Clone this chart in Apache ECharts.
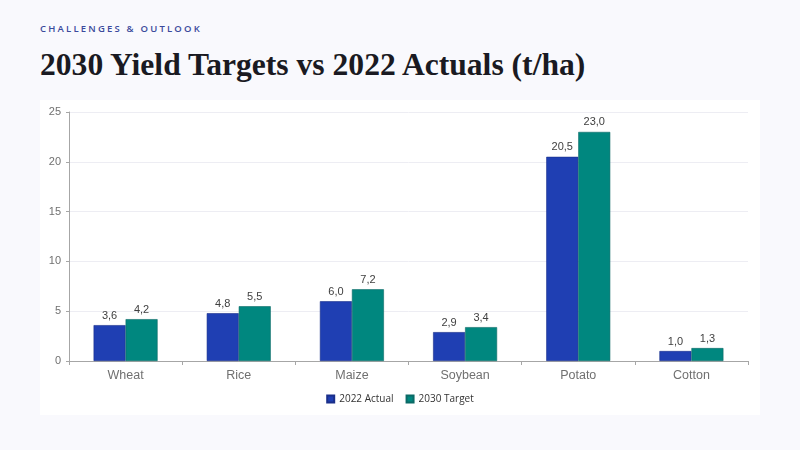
<!DOCTYPE html>
<html>
<head>
    <meta charset="utf-8">
    <title>2030 Yield Targets</title>
    <script src="https://cdn.jsdelivr.net/npm/echarts@6/dist/echarts.min.js"></script>
    <style>
        html, body { margin: 0; padding: 0; background: #f9f9fd; }
        #page { position: relative; width: 800px; height: 450px; overflow: hidden; }
        #kicker { position: absolute; left: 40px; top: 22px; font: 600 9.5px "Open Sans", sans-serif; letter-spacing: 2.2px; color: #3b4a9c; }
        #title { position: absolute; left: 40px; top: 47px; font: bold 31.6px "Liberation Serif", serif; color: #1a1a22; }
        #panel { position: absolute; left: 40px; top: 100px; width: 720px; height: 315px; background: #ffffff; }
        #main { position: absolute; left: 0; top: 0; width: 800px; height: 450px; }
    </style>
</head>
<body>
<div id="page">
    <div id="kicker">CHALLENGES &amp; OUTLOOK</div>
    <div id="title">2030 Yield Targets vs 2022 Actuals (t/ha)</div>
    <div id="panel"></div>
    <div id="main"></div>
</div>
<script type="text/javascript">
    var crops = ['Wheat', 'Rice', 'Maize', 'Soybean', 'Potato', 'Cotton'];
    var actual2022 = [3.6, 4.8, 6.0, 2.9, 20.5, 1.0];
    var target2030 = [4.2, 5.5, 7.2, 3.4, 23.0, 1.3];

    var fmt = function (p) {
        return p.value.toFixed(1).replace('.', ',');
    };

    var myChart = echarts.init(document.getElementById('main'));
    var option = {
        animation: false,
        legend: {
            bottom: 41,
            left: 'center',
            itemWidth: 7,
            itemHeight: 7,
            itemGap: 12,
            icon: 'rect',
            textStyle: { fontFamily: 'Open Sans', fontSize: 10, color: '#333' },
            data: ['2022 Actual', '2030 Target']
        },
        grid: { left: 69, right: 52, top: 112, bottom: 89 },
        xAxis: {
            type: 'category',
            data: crops,
            axisLine: { lineStyle: { color: '#a6a6a6' } },
            axisTick: { show: true, length: 4, lineStyle: { color: '#a6a6a6' } },
            axisLabel: { color: '#707070', fontSize: 12.5, fontFamily: 'Liberation Sans', margin: 8 }
        },
        yAxis: {
            type: 'value',
            min: 0,
            max: 25,
            interval: 5,
            axisLine: { show: true, lineStyle: { color: '#a6a6a6' } },
            axisTick: { show: true, length: 3, lineStyle: { color: '#a6a6a6' } },
            axisLabel: { color: '#707070', fontSize: 11, fontFamily: 'Liberation Sans', margin: 8 },
            splitLine: { lineStyle: { color: '#ededf3' } }
        },
        series: [
            {
                name: '2022 Actual',
                type: 'bar',
                data: actual2022,
                barWidth: 32,
                barGap: '0%',
                itemStyle: { color: '#1f3fb3', borderColor: '#1a2f8a', borderWidth: 0.6 },
                label: { show: true, position: 'top', distance: 4, formatter: fmt, color: '#404040', fontSize: 11, fontFamily: 'Liberation Sans' }
            },
            {
                name: '2030 Target',
                type: 'bar',
                data: target2030,
                barWidth: 32,
                itemStyle: { color: '#00877f', borderColor: '#0b6a66', borderWidth: 0.6 },
                label: { show: true, position: 'top', distance: 4, formatter: fmt, color: '#404040', fontSize: 11, fontFamily: 'Liberation Sans' }
            }
        ]
    };
    myChart.setOption(option);
</script>
</body>
</html>
